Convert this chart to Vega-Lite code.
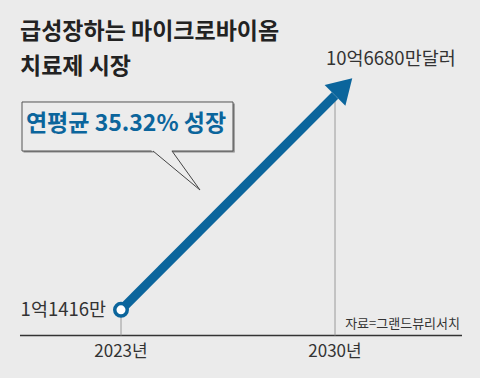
{
  "$schema": "https://vega.github.io/schema/vega-lite/v6.json",
  "autosize": {"type": "fit", "contains": "padding"},
  "width": 480,
  "height": 378,
  "padding": 0,
  "background": "#ebebeb",
  "config": {"view": {"stroke": null}, "axis": {"disable": true}},
  "datasets": {
    "series": [
      {"year": 2023, "value": 1.1416, "label": "1억1416만", "yearLabel": "2023년"},
      {"year": 2030, "value": 10.668, "label": "10억6680만달러", "yearLabel": "2030년"}
    ],
    "baseline": [{"x": 2019.696, "x2": 2034.154, "y": 0}],
    "box": [{"x": 2019.762, "x2": 2026.664, "y": 10.378, "y2": 8.2, "text": "연평균 35.32% 성장", "tx": 2023.164, "ty": 9.4}],
    "shadow": [{"x": 2019.81, "x2": 2026.72, "y": 10.31, "y2": 8.13}],
    "pointerFill": [
      {"py": 8.24, "px": 2023.98, "px2": 2024.65},
      {"py": 6.467, "px": 2025.584, "px2": 2025.584}
    ],
    "pointerLine": [
      {"px": 2024.047, "py": 8.2, "o": 1},
      {"px": 2025.584, "py": 6.467, "o": 2},
      {"px": 2024.668, "py": 8.2, "o": 3}
    ],
    "titles": [
      {"x": 2019.696, "y": 13.489, "text": "급성장하는 마이크로바이옴"},
      {"x": 2019.696, "y": 11.933, "text": "치료제 시장"}
    ],
    "source": [{"x": 2034.089, "y": 0.533, "text": "자료=그랜드뷰리서치"}]
  },
  "layer": [
    {
      "data": {"name": "baseline"},
      "mark": {"type": "rule", "color": "#333333", "strokeWidth": 1.5},
      "encoding": {
        "x": {"field": "x", "type": "quantitative", "scale": {"domain": [2019.042, 2034.743], "nice": false, "zero": false}},
        "x2": {"field": "x2"},
        "y": {"field": "y", "type": "quantitative", "scale": {"domain": [-1.889, 14.911], "nice": false, "zero": false}}
      }
    },
    {
      "data": {"name": "series"},
      "mark": {"type": "rule", "color": "#9a9a9a", "strokeWidth": 1},
      "encoding": {
        "x": {"field": "year", "type": "quantitative"},
        "y": {"field": "value", "type": "quantitative"},
        "y2": {"datum": 0}
      }
    },
    {
      "data": {"name": "shadow"},
      "mark": {"type": "rect", "fill": "#8a8a8a"},
      "encoding": {
        "x": {"field": "x", "type": "quantitative"},
        "x2": {"field": "x2"},
        "y": {"field": "y", "type": "quantitative"},
        "y2": {"field": "y2"}
      }
    },
    {
      "data": {"name": "box"},
      "mark": {"type": "rect", "fill": "#ececec", "stroke": "#555555", "strokeWidth": 1},
      "encoding": {
        "x": {"field": "x", "type": "quantitative"},
        "x2": {"field": "x2"},
        "y": {"field": "y", "type": "quantitative"},
        "y2": {"field": "y2"}
      }
    },
    {
      "data": {"name": "pointerFill"},
      "mark": {"type": "area", "orient": "horizontal", "fill": "#ececec"},
      "encoding": {
        "y": {"field": "py", "type": "quantitative"},
        "x": {"field": "px", "type": "quantitative"},
        "x2": {"field": "px2"}
      }
    },
    {
      "data": {"name": "pointerLine"},
      "mark": {"type": "line", "color": "#444444", "strokeWidth": 1},
      "encoding": {
        "x": {"field": "px", "type": "quantitative"},
        "y": {"field": "py", "type": "quantitative"},
        "order": {"field": "o", "type": "quantitative"}
      }
    },
    {
      "data": {"name": "box"},
      "mark": {"type": "text", "font": "Noto Sans CJK KR", "fontWeight": "bold", "fontSize": 23, "color": "#0b659c", "align": "center", "baseline": "middle"},
      "encoding": {
        "x": {"field": "tx", "type": "quantitative"},
        "y": {"field": "ty", "type": "quantitative"},
        "text": {"field": "text"}
      }
    },
    {
      "data": {"name": "series"},
      "mark": {"type": "line", "color": "#0b659c", "strokeWidth": 9, "strokeCap": "butt"},
      "encoding": {
        "x": {"field": "year", "type": "quantitative"},
        "y": {"field": "value", "type": "quantitative"}
      }
    },
    {
      "data": {"name": "series"},
      "transform": [{"filter": "datum.year == 2030"}],
      "mark": {"type": "point", "shape": "M0,-1L-0.6,0L0.6,0Z", "size": 2381, "angle": 45, "filled": true, "fill": "#0b659c", "opacity": 1, "strokeWidth": 0},
      "encoding": {
        "x": {"field": "year", "type": "quantitative"},
        "y": {"field": "value", "type": "quantitative"}
      }
    },
    {
      "data": {"name": "series"},
      "transform": [{"filter": "datum.year == 2023"}],
      "mark": {"type": "point", "shape": "circle", "size": 156, "filled": false, "fill": "#ffffff", "fillOpacity": 1, "stroke": "#0b659c", "strokeWidth": 3.5, "opacity": 1},
      "encoding": {
        "x": {"field": "year", "type": "quantitative"},
        "y": {"field": "value", "type": "quantitative"}
      }
    },
    {
      "data": {"name": "series"},
      "transform": [{"filter": "datum.year == 2023"}],
      "mark": {"type": "text", "font": "Noto Sans CJK KR", "fontSize": 18.5, "color": "#333333", "align": "right", "baseline": "middle", "dx": -15},
      "encoding": {
        "x": {"field": "year", "type": "quantitative"},
        "y": {"field": "value", "type": "quantitative"},
        "text": {"field": "label"}
      }
    },
    {
      "data": {"name": "series"},
      "transform": [{"filter": "datum.year == 2030"}],
      "mark": {"type": "text", "font": "Noto Sans CJK KR", "fontSize": 18.5, "color": "#333333", "align": "left", "baseline": "middle", "dx": -9, "dy": -36},
      "encoding": {
        "x": {"field": "year", "type": "quantitative"},
        "y": {"field": "value", "type": "quantitative"},
        "text": {"field": "label"}
      }
    },
    {
      "data": {"name": "series"},
      "mark": {"type": "text", "font": "Noto Sans CJK KR", "fontSize": 17, "color": "#333333", "align": "center", "baseline": "middle", "dy": 17},
      "encoding": {
        "x": {"field": "year", "type": "quantitative"},
        "y": {"datum": 0},
        "text": {"field": "yearLabel"}
      }
    },
    {
      "data": {"name": "source"},
      "mark": {"type": "text", "font": "Noto Sans CJK KR", "fontSize": 13, "color": "#333333", "align": "right", "baseline": "middle"},
      "encoding": {
        "x": {"field": "x", "type": "quantitative"},
        "y": {"field": "y", "type": "quantitative"},
        "text": {"field": "text"}
      }
    },
    {
      "data": {"name": "titles"},
      "mark": {"type": "text", "font": "Noto Sans CJK KR", "fontWeight": "bold", "fontSize": 23, "color": "#222222", "align": "left", "baseline": "middle"},
      "encoding": {
        "x": {"field": "x", "type": "quantitative"},
        "y": {"field": "y", "type": "quantitative"},
        "text": {"field": "text"}
      }
    }
  ]
}
